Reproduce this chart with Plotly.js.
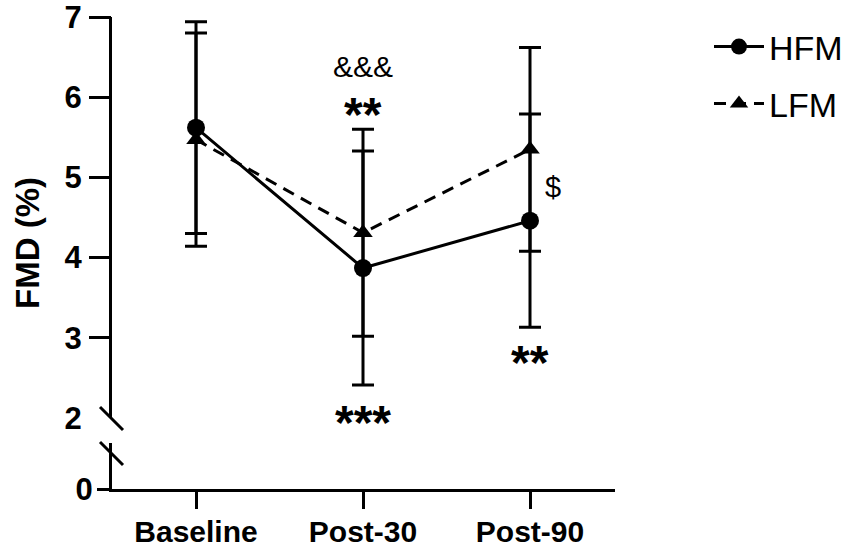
<!DOCTYPE html>
<html>
<head>
<meta charset="utf-8">
<script src="https://cdn.plot.ly/plotly-3.0.1.min.js"></script>
<style>html,body{margin:0;padding:0;background:#fff;}#chart{width:851px;height:549px;}</style>
</head>
<body>
<div id="chart"></div>
<script>
// ---- data ----
const categories = ['Baseline', 'Post-30', 'Post-90'];
const seriesNames = ['HFM', 'LFM'];
const hfmMean = [5.62, 3.87, 4.46];
const hfmSD = [1.32, 1.46, 1.33];
const lfmMean = [5.47, 4.31, 5.35];
const lfmSD = [1.33, 1.29, 1.27];
const upperTickVals = [2, 3, 4, 5, 6, 7];
const upperTickMarks = [3, 4, 5, 6, 7];
const lowerTickVals = [0];
const yTitle = 'FMD (%)';
const sigLabels = ['&&&', '**', '***', '**', '$'];

const FONT = 'Arial, "Liberation Sans", Helvetica, sans-serif';

const lfm = {
  x: categories, y: lfmMean, name: seriesNames[1], type: 'scatter', mode: 'lines+markers',
  xaxis: 'x', yaxis: 'y', legend: 'legend2', cliponaxis: false,
  line: {color: '#000', width: 3, dash: '12px,8px'},
  marker: {symbol: 'triangle-up', size: 17, color: '#000'},
  error_y: {type: 'data', array: lfmSD, visible: true, color: '#000', thickness: 3, width: 11}
};
const hfm = {
  x: categories, y: hfmMean, name: seriesNames[0], type: 'scatter', mode: 'lines+markers',
  xaxis: 'x', yaxis: 'y', legend: 'legend', cliponaxis: false,
  line: {color: '#000', width: 3},
  marker: {symbol: 'circle', size: 18, color: '#000'},
  error_y: {type: 'data', array: hfmSD, visible: true, color: '#000', thickness: 3, width: 11}
};
// empty helper traces so the broken-axis segments are drawn
const lowerAxisHolder = {x: [], y: [], type: 'scatter', mode: 'markers', xaxis: 'x', yaxis: 'y2', showlegend: false, hoverinfo: 'skip'};
const tickAxisHolder = {x: [], y: [], type: 'scatter', mode: 'markers', xaxis: 'x', yaxis: 'y3', showlegend: false, hoverinfo: 'skip'};

// plot area pixel geometry helpers for decorations
const W = 851, H = 549;
const L = 112, R = 615, T = 17, B = 489;
const px = v => (v - L) / (R - L);
const py = v => (B - v) / (B - T);
const UPPER = [2, 7];

const layout = {
  width: W, height: H,
  margin: {l: L, r: W - R, t: T, b: H - B, pad: 0, autoexpand: false},
  paper_bgcolor: '#fff', plot_bgcolor: '#fff',
  font: {family: FONT, color: '#000'},
  showlegend: true,
  xaxis: {
    type: 'category', categoryarray: categories, range: [-0.503, 2.509],
    anchor: 'y2', showline: true, linewidth: 3, linecolor: '#000',
    ticks: 'outside', ticklen: 17, tickwidth: 3, tickcolor: '#000',
    showgrid: false, zeroline: false, automargin: false,
    tickfont: {family: FONT, size: 30, color: '#000', weight: 'bold'},
    ticklabelstandoff: -3, ticklabeloverflow: 'allow'
  },
  yaxis: {
    domain: [py(418), 1], range: UPPER, anchor: 'x',
    tickmode: 'array', tickvals: upperTickVals, ticktext: upperTickVals.map(String),
    showline: true, linewidth: 3, linecolor: '#000',
    ticks: 'outside', ticklen: 22, tickwidth: 3, tickcolor: 'rgba(0,0,0,0)',
    showgrid: false, zeroline: false, automargin: false,
    tickfont: {family: FONT, size: 31, color: '#000', weight: 'bold'},
    ticklabelstandoff: -1, ticklabeloverflow: 'allow'
  },
  yaxis3: {
    overlaying: 'y', range: UPPER, anchor: 'x', side: 'left',
    tickmode: 'array', tickvals: upperTickMarks, showticklabels: false,
    showline: false, ticks: 'outside', ticklen: 22, tickwidth: 3, tickcolor: '#000',
    showgrid: false, zeroline: false, automargin: false
  },
  yaxis2: {
    domain: [0, py(443)], range: [0, 1], anchor: 'x',
    tickmode: 'array', tickvals: lowerTickVals, ticktext: lowerTickVals.map(String),
    showline: true, linewidth: 3, linecolor: '#000',
    ticks: 'outside', ticklen: 12, tickwidth: 3, tickcolor: '#000',
    showgrid: false, zeroline: false, automargin: false,
    tickfont: {family: FONT, size: 31, color: '#000', weight: 'bold'},
    ticklabelstandoff: -2, ticklabeloverflow: 'allow'
  },
  legend: {
    xref: 'container', yref: 'container', x: 709 / W, y: 1 - 47 / H, xanchor: 'left', yanchor: 'middle',
    font: {family: FONT, size: 34, color: '#000'}, itemwidth: 50, bgcolor: 'rgba(0,0,0,0)'
  },
  legend2: {
    xref: 'container', yref: 'container', x: 709 / W, y: 1 - 104 / H, xanchor: 'left', yanchor: 'middle',
    font: {family: FONT, size: 34, color: '#000'}, itemwidth: 50, bgcolor: 'rgba(0,0,0,0)'
  },
  shapes: [
    {type: 'line', xref: 'paper', yref: 'paper', x0: px(100), y0: py(407), x1: px(123), y1: py(430),
     line: {color: '#000', width: 3}},
    {type: 'line', xref: 'paper', yref: 'paper', x0: px(100), y0: py(442), x1: px(123), y1: py(465),
     line: {color: '#000', width: 3}}
  ],
  annotations: [
    {text: yTitle, xref: 'paper', yref: 'paper', x: px(28), y: py(243), showarrow: false,
     textangle: -90, xanchor: 'center', yanchor: 'middle',
     font: {family: FONT, size: 33, color: '#000', weight: 'bold'}},
    {text: sigLabels[0], xref: 'x', yref: 'y', x: 1, y: 6.38, showarrow: false,
     xanchor: 'center', yanchor: 'middle',
     font: {family: FONT, size: 30, color: '#000'}},
    {text: sigLabels[1], xref: 'x', yref: 'y', x: 1, y: 5.78, showarrow: false,
     xanchor: 'center', yanchor: 'middle',
     font: {family: FONT, size: 48, color: '#000', weight: 'bold'}},
    {text: sigLabels[2], xref: 'x', yref: 'paper', x: 1, y: py(422), showarrow: false,
     xanchor: 'center', yanchor: 'middle',
     font: {family: FONT, size: 48, color: '#000', weight: 'bold'}},
    {text: sigLabels[3], xref: 'x', yref: 'y', x: 2, y: 2.686, showarrow: false,
     xanchor: 'center', yanchor: 'middle',
     font: {family: FONT, size: 48, color: '#000', weight: 'bold'}},
    {text: sigLabels[4], xref: 'x', yref: 'y', x: 2.135, y: 4.885, showarrow: false,
     xanchor: 'center', yanchor: 'middle',
     font: {family: FONT, size: 29, color: '#000'}}
  ]
};

Plotly.newPlot('chart', [lfm, hfm, lowerAxisHolder, tickAxisHolder], layout, {displayModeBar: false, staticPlot: true});
</script>
</body>
</html>
